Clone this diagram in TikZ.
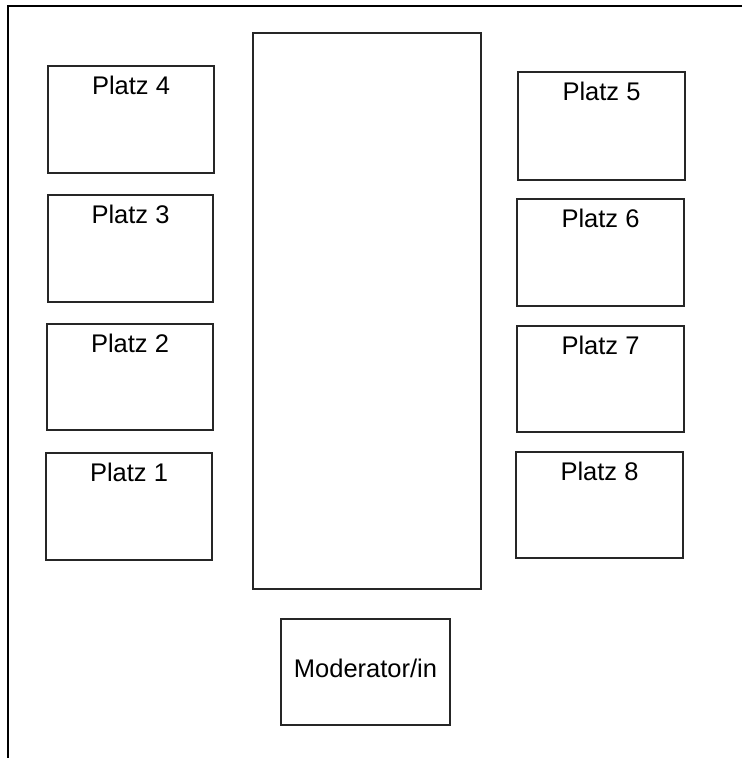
\documentclass[tikz,border=0pt]{standalone}
\usepackage{fontspec}
\setmainfont{Liberation Sans}
\begin{document}
\begin{tikzpicture}[x=1pt,y=-1pt,
  box/.style={draw=black!85,line width=1.2pt,inner sep=0pt,outer sep=0pt},
  seat/.style={box,minimum width=166pt,minimum height=107pt},
  seatlabel/.style={label={[anchor=base,yshift=-28pt,font=\fontsize{25.5}{30}\selectfont]north:#1}},
  frame/.style={draw=black,line width=2.2pt}]
\useasboundingbox (0,0) rectangle (742,758);
% outer frame
\coordinate (ftl) at (8,6);
\coordinate (ftr) at (742,6);
\coordinate (fbl) at (8,758);
\draw[frame] (ftr) -- (ftl) -- (fbl);
% table
\node[box,minimum width=228pt,minimum height=556pt] (table) at (367,311) {};
% left seats
\node[seat,seatlabel={Platz 4}] (p4) at (131,119.5) {};
\node[seat,seatlabel={Platz 3},minimum width=165pt] (p3) at (130.5,248.5) {};
\node[seat,seatlabel={Platz 2},minimum height=106pt] (p2) at (130,377) {};
\node[seat,seatlabel={Platz 1}] (p1) at (129,506.5) {};
% right seats
\node[seat,seatlabel={Platz 5},minimum width=167pt,minimum height=108pt] (p5) at (601.5,126) {};
\node[seat,seatlabel={Platz 6},minimum width=167pt] (p6) at (600.5,252.5) {};
\node[seat,seatlabel={Platz 7},minimum width=167pt,minimum height=106pt] (p7) at (600.5,379) {};
\node[seat,seatlabel={Platz 8},minimum width=167pt,minimum height=106pt] (p8) at (599.5,505) {};
% moderator
\node[box,minimum width=169pt,minimum height=106pt,
  label={[anchor=base,yshift=-58pt,font=\fontsize{25.5}{30}\selectfont]north:Moderator/in}] (mod) at (365.5,672) {};
\end{tikzpicture}
\end{document}
